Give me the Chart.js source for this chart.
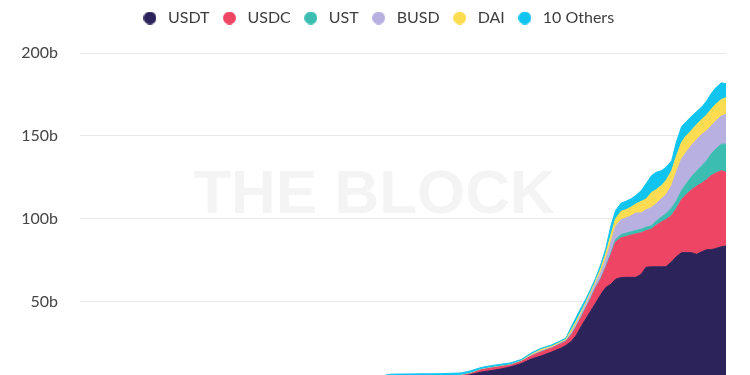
<!DOCTYPE html>
<html>
<head>
<meta charset="utf-8">
<script src="https://cdn.jsdelivr.net/npm/chart.js@4/dist/chart.umd.min.js"></script>
<style>
html,body{margin:0;padding:0;overflow:hidden;background:#fff;}
#c{display:block;}
</style>
</head>
<body>
<canvas id="c" width="750" height="416"></canvas>
<script>
// ---- DATA (billions of USD) ----
const dates = [
  "2016-12-01","2017-03-01","2017-06-01","2017-09-01","2017-12-01","2018-03-01","2018-06-01","2018-09-01",
  "2018-12-01","2019-03-01","2019-06-01","2019-07-01","2019-08-01","2019-09-01","2019-10-01","2019-11-01",
  "2019-12-01","2020-01-01","2020-02-01","2020-03-01","2020-04-01","2020-05-01","2020-06-01","2020-07-01",
  "2020-08-01","2020-09-01","2020-10-01","2020-11-01","2020-12-01","2020-12-15","2021-01-01","2021-01-15",
  "2021-02-01","2021-02-15","2021-03-01","2021-03-15","2021-04-01","2021-04-15","2021-05-01","2021-05-15",
  "2021-06-01","2021-06-15","2021-07-01","2021-07-15","2021-08-01","2021-08-15","2021-09-01","2021-09-15",
  "2021-10-01","2021-10-15","2021-11-01","2021-11-15","2021-12-01","2021-12-15","2022-01-01","2022-01-15",
  "2022-02-01","2022-02-15","2022-03-01","2022-03-15","2022-04-01","2022-04-15"
];
const seriesNames = ["USDT","USDC","UST","BUSD","DAI","10 Others"];
const usdt = [
  0.01,0.05,0.1,0.4,1.2,2.2,2.5,2.7,
  1.9,2.3,3.2,4.3,4.4,4.4,4.45,4.45,
  4.5,4.6,4.7,5.9,7.4,8.3,9.3,10.6,
  12.5,15.3,17.2,19.5,22.0,23.5,26.0,29.5,
  35.5,40.0,44.5,49.0,54.5,58.5,60.5,63.5,
  64.5,64.6,64.6,64.6,66.5,70.7,71.0,71.0,
  71.0,71.0,74.0,77.0,79.5,79.5,79.5,78.5,
  80.0,81.3,81.3,82.0,83.1,83.5
];
const usdc = [
  0,0,0,0,0,0,0,0.05,
  0.3,0.25,0.35,0.45,0.4,0.42,0.45,0.45,
  0.48,0.5,0.55,0.6,1.3,1.5,1.4,1.0,
  1.2,1.8,2.4,2.3,2.6,2.4,4.0,5.0,
  5.5,6.5,7.5,9.0,9.5,12.0,18.0,22.5,
  24.0,24.6,25.5,26.2,25.0,22.0,22.8,25.0,
  27.0,28.5,28.0,29.0,32.0,35.0,38.0,41.0,
  41.5,42.2,44.7,45.5,45.9,44.5
];
const ust = [
  0,0,0,0,0,0,0,0,
  0,0,0,0,0,0,0,0,
  0,0,0,0,0,0,0,0,
  0,0.05,0.1,0.1,0.15,0.2,0.3,0.3,
  0.4,0.4,0.4,0.4,0.5,0.6,1.0,1.5,
  2.0,2.0,2.0,2.1,2.2,2.1,2.0,2.5,
  3.0,3.5,4.5,4.5,5.5,6.5,8.0,9.0,
  10.5,11.5,13.0,14.5,16.0,17.0
];
const busd = [
  0,0,0,0,0,0,0,0,
  0,0,0.02,0.05,0.05,0.06,0.06,0.06,
  0.07,0.08,0.1,0.15,0.18,0.2,0.15,0.15,
  0.2,0.4,0.5,0.4,0.5,0.5,1.2,1.6,
  1.8,2.0,2.3,2.5,3.5,4.5,6.5,8.0,
  9.0,9.2,9.7,10.5,9.8,10.5,11.0,10.5,
  11.0,11.5,13.5,17.5,19.0,19.0,19.0,19.0,
  19.0,18.0,17.0,17.0,17.0,18.0
];
const dai = [
  0,0,0,0,0.01,0.02,0.05,0.06,
  0.07,0.09,0.08,0.06,0.07,0.07,0.08,0.08,
  0.09,0.1,0.12,0.12,0.1,0.12,0.13,0.15,
  0.25,0.5,0.8,0.6,0.5,0.6,1.5,1.6,
  1.3,1.1,1.3,1.3,2.5,3.2,4.5,4.5,
  5.0,5.0,5.2,5.5,7.0,6.5,9.0,8.5,
  8.0,8.5,9.0,9.5,10.0,10.0,9.0,9.0,
  9.0,9.5,10.0,10.0,10.0,10.0
];
const others = [
  0.01,0.02,0.03,0.05,0.1,0.15,0.3,0.5,
  0.9,0.9,1.2,1.3,1.35,1.35,1.36,1.36,
  1.36,1.42,1.43,1.43,1.2,1.2,1.2,1.1,
  0.85,0.95,0.8,0.9,0.75,0.8,2.0,2.5,
  2.5,2.0,2.0,1.8,2.5,3.2,5.5,5.0,
  5.0,5.1,5.0,5.1,6.5,9.2,10.2,10.5,
  9.0,8.0,6.0,8.5,9.5,8.5,8.5,8.0,
  7.5,8.5,9.5,10.0,10.0,8.5
];
const colors = ["#2b235a","#ef4565","#3cbdb1","#b7b0e0","#fcdd52","#10c4f0"];
const yTicks = [0,50,100,150,200];

// ---- build ----
const xs = dates.map(d => Date.parse(d + "T00:00:00Z"));
const seriesValues = [usdt, usdc, ust, busd, dai, others];

function circleImg(color){
  const c = document.createElement('canvas');
  c.width = 13; c.height = 13;
  const g = c.getContext('2d');
  g.fillStyle = color;
  g.beginPath(); g.arc(6.5, 6.5, 6.5, 0, Math.PI*2); g.fill();
  return c;
}
const legendImgs = colors.map(circleImg);

const datasets = seriesValues.map((vals, i) => ({
  label: seriesNames[i],
  data: vals.map((v, j) => ({x: xs[j], y: v})),
  backgroundColor: colors[i],
  borderColor: colors[i],
  borderWidth: 1,
  pointRadius: 0,
  pointHoverRadius: 0,
  tension: 0,
  fill: i === 0 ? 'origin' : '-1'
}));

const watermark = {
  id: 'watermark',
  beforeDatasetsDraw(chart){
    const ctx = chart.ctx;
    ctx.save();
    ctx.font = 'bold 62px "Liberation Sans", Arial, sans-serif';
    ctx.fillStyle = '#f4f4f4';
    ctx.textAlign = 'center';
    ctx.textBaseline = 'middle';
    ctx.fillText('THE BLOCK', 374, chart.chartArea.top + 143);
    ctx.restore();
  }
};

const legendSpace = {
  id: 'legendSpace',
  beforeInit(chart){
    const lg = chart.legend;
    const orig = lg.fit;
    lg.fit = function(){ orig.call(this); this.height += 17; };
  },
  afterLayout(chart){
    chart.legend.left += 28;
  }
};

const FONT = 'Lato, "Noto Sans", sans-serif';
Chart.defaults.font.family = FONT;

new Chart(document.getElementById('c'), {
  type: 'line',
  data: { datasets },
  plugins: [watermark, legendSpace],
  options: {
    responsive: false,
    animation: false,
    devicePixelRatio: 1,
    layout: { padding: { left: 0, right: 24, top: 0, bottom: 0 } },
    plugins: {
      tooltip: { enabled: false },
      legend: {
        position: 'top',
        align: 'center',
        labels: {
          usePointStyle: true,
          boxWidth: 20,
          boxHeight: 13,
          pointStyleWidth: 20,
          padding: 10,
          color: '#3d3d3d',
          font: { size: 16, family: FONT },
          generateLabels(chart){
            const items = Chart.defaults.plugins.legend.labels.generateLabels(chart);
            items.forEach(it => { it.pointStyle = legendImgs[it.datasetIndex]; it.lineWidth = 0; });
            return items;
          }
        }
      }
    },
    scales: {
      x: {
        type: 'linear',
        display: false,
        min: xs[0],
        max: xs[xs.length - 1]
      },
      y: {
        stacked: true,
        min: 0,
        max: 200,
        afterFit(scale){ scale.width = 80; },
        afterBuildTicks(scale){ scale.ticks = yTicks.map(v => ({value: v})); },
        border: { display: false },
        grid: { color: '#e9e9e9', drawTicks: false, lineWidth: 1 },
        ticks: {
          padding: 22,
          color: '#444',
          font: { size: 16, family: FONT },
          callback: v => v + 'b'
        }
      }
    }
  }
});
</script>
</body>
</html>
